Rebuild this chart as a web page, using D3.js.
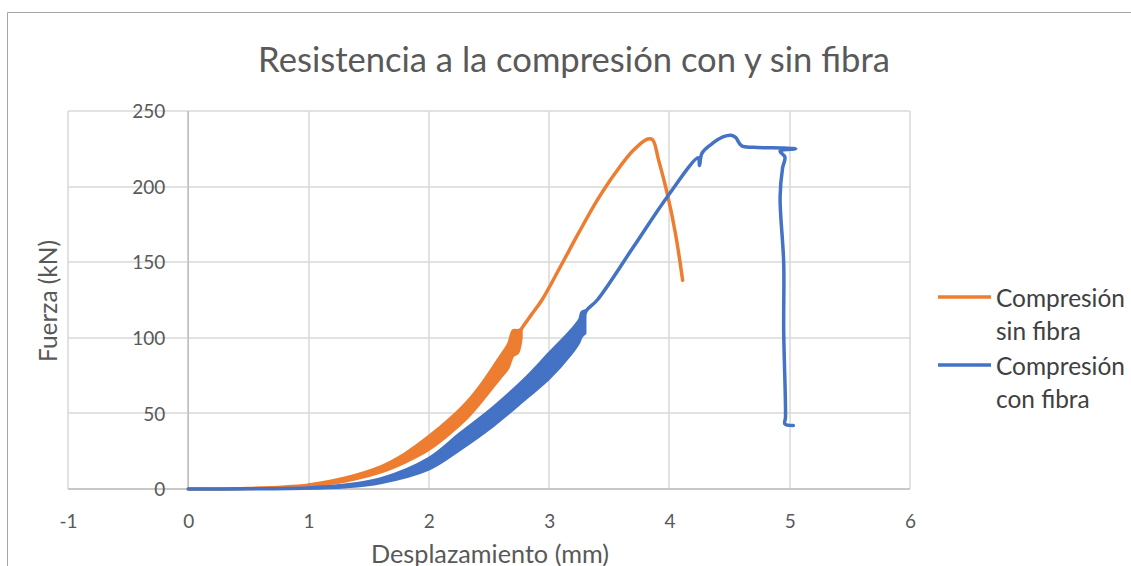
<!DOCTYPE html>
<html>
<head>
<meta charset="utf-8">
<script src="https://cdn.jsdelivr.net/npm/d3@7/dist/d3.min.js"></script>
<style>
  html, body { margin: 0; padding: 0; background: #fff; }
  svg { display: block; }
  text { font-family: Lato, "Open Sans", sans-serif; }
</style>
</head>
<body>
<svg id="chart" width="1131" height="566"></svg>
<script>
// ---------- data ----------
const title = "Resistencia a la compresión con y sin fibra";
const xLabel = "Desplazamiento (mm)";
const yLabel = "Fuerza (kN)";
const xTicks = [-1, 0, 1, 2, 3, 4, 5, 6];
const yTicks = [0, 50, 100, 150, 200, 250];
const seriesNames = [["Compresión", "sin fibra"], ["Compresión", "con fibra"]];

// Compresión sin fibra (centre line)
const sinX = [0, 0.5, 1.0, 1.3, 1.6, 1.8, 2.0, 2.18, 2.32, 2.45, 2.59, 2.70, 2.77, 2.85, 2.94, 3.1, 3.25, 3.4, 3.55, 3.70, 3.82, 3.86, 3.91, 3.98, 4.05, 4.11];
const sinY = [0, 0.3, 2.5, 6, 12.5, 20.5, 30.5, 42, 53, 65, 80, 97, 106, 115, 125, 148, 170, 191, 209, 224, 231.5, 231, 217.5, 196, 169, 138];
// cyclic loading band (envelope) sin fibra
const sinBandX  = [1.0, 1.3, 1.6, 1.8, 2.0, 2.18, 2.32, 2.45, 2.59, 2.66, 2.70, 2.74, 2.77];
const sinBandLo = [2, 5, 11, 17.5, 26, 37, 47, 59, 73, 80, 88, 90, 100];
const sinBandHi = [3, 7.5, 15, 23.5, 35, 47, 58, 71, 87.5, 96, 105, 105, 106];

// Compresión con fibra (centre line)
const conX = [0, 0.5, 1.0, 1.3, 1.6, 2.0, 2.26, 2.54, 2.81, 3.0, 3.18, 3.27, 3.31, 3.40, 3.70, 3.98, 4.24, 4.25, 4.27, 4.34, 4.45, 4.51, 4.55, 4.60, 4.70, 4.95, 5.05, 4.92, 4.96, 4.94, 4.92, 4.95, 4.95, 4.965, 4.96, 5.03];
const conY = [0, 0.1, 0.7, 2, 5.5, 16.5, 31.5, 48, 67, 82, 97, 110, 118, 125, 160, 193, 219, 214, 222, 227.5, 233, 234, 232.5, 227, 226, 225.5, 225, 223.5, 219.5, 212, 193, 149.5, 105, 47.6, 43, 42];
// cyclic loading band (envelope) con fibra
const conBandX  = [1.0, 1.3, 1.6, 2.0, 2.26, 2.54, 2.81, 3.0, 3.18, 3.25, 3.27, 3.30];
const conBandLo = [0.3, 1.2, 4, 13, 26, 42, 60, 73, 89, 97, 100.7, 103];
const conBandHi = [1, 2.8, 7, 20.5, 37, 54.5, 74, 90, 105, 112, 117, 118];

const colors = ["#ED7D31", "#4472C4"];

// ---------- layout ----------
const svg = d3.select("#chart");
const W = 1131, H = 566;
const plot = { left: 68, right: 910, top: 111, bottom: 489 };

const x = d3.scaleLinear().domain([-1, 6]).range([plot.left, plot.right]);
const y = d3.scaleLinear().domain([0, 250]).range([plot.bottom, plot.top]);

function fit(sel, w) {
  const cur = sel.node().getComputedTextLength();
  const fs = parseFloat(sel.attr("font-size"));
  sel.attr("font-size", (fs * w / cur).toFixed(2));
}

// frame
svg.append("path")
  .attr("d", `M7.5,${H} L7.5,12.5 L${W},12.5`)
  .attr("fill", "none").attr("stroke", "#a6a6a6").attr("stroke-width", 1);

// title
const t = svg.append("text")
  .attr("x", 574).attr("y", 58).attr("text-anchor", "middle")
  .attr("dominant-baseline", "central")
  .attr("font-size", 28).attr("fill", "#595959").text(title);
fit(t, 632);

// gridlines
const g = svg.append("g");
g.selectAll(".hg").data(yTicks).join("line")
  .attr("x1", plot.left).attr("x2", plot.right)
  .attr("y1", d => Math.round(y(d))).attr("y2", d => Math.round(y(d)))
  .attr("stroke", "#d9d9d9").attr("stroke-width", 1.5);
g.selectAll(".vg").data(xTicks).join("line")
  .attr("y1", plot.top).attr("y2", plot.bottom)
  .attr("x1", d => Math.round(x(d))).attr("x2", d => Math.round(x(d)))
  .attr("stroke", "#d9d9d9").attr("stroke-width", 1.5);

// axis lines (at x=0 and y=0)
svg.append("line").attr("x1", plot.left).attr("x2", plot.right)
  .attr("y1", y(0)).attr("y2", y(0)).attr("stroke", "#bfbfbf").attr("stroke-width", 1.5);
svg.append("line").attr("x1", x(0)).attr("x2", x(0))
  .attr("y1", plot.top).attr("y2", plot.bottom).attr("stroke", "#bfbfbf").attr("stroke-width", 1.5);

// axes (labels only)
const xAxis = svg.append("g").attr("transform", `translate(0,${y(0)})`)
  .call(d3.axisBottom(x).tickValues(xTicks).tickSize(0).tickFormat(d => String(d)));
xAxis.select(".domain").remove();
xAxis.selectAll("text").attr("y", 32).attr("dy", "0.35em")
  .attr("font-size", 19).attr("fill", "#595959").attr("font-family", "Lato, sans-serif");

const yAxis = svg.append("g").attr("transform", `translate(${x(0)},0)`)
  .call(d3.axisLeft(y).tickValues(yTicks).tickSize(0).tickFormat(d => String(d)));
yAxis.select(".domain").remove();
yAxis.selectAll("text").attr("x", -23).attr("dy", "0.35em")
  .attr("font-size", 19).attr("fill", "#595959").attr("font-family", "Lato, sans-serif");

// axis titles
const xt = svg.append("text").attr("x", 490).attr("y", 553)
  .attr("text-anchor", "middle").attr("dominant-baseline", "central")
  .attr("font-size", 20).attr("fill", "#595959").text(xLabel);
fit(xt, 238);
const yt = svg.append("text")
  .attr("transform", "translate(47,301) rotate(-90)")
  .attr("text-anchor", "middle").attr("dominant-baseline", "central")
  .attr("font-size", 20).attr("fill", "#595959").text(yLabel);
fit(yt, 122);

// series
const curve = d3.curveCatmullRom.alpha(0.5);
const line = d3.line().x(d => x(d[0])).y(d => y(d[1])).curve(curve);
const area = d3.area().x(d => x(d[0])).y0(d => y(d[1])).y1(d => y(d[2])).curve(curve);

const bands = [
  d3.zip(sinBandX, sinBandLo, sinBandHi),
  d3.zip(conBandX, conBandLo, conBandHi)
];
const lines = [d3.zip(sinX, sinY), d3.zip(conX, conY)];

[0, 1].forEach(i => {
  svg.append("path").datum(bands[i]).attr("d", area)
    .attr("fill", colors[i]).attr("stroke", colors[i]).attr("stroke-width", 2.5)
    .attr("stroke-linejoin", "round");
  svg.append("path").datum(lines[i]).attr("d", line)
    .attr("fill", "none").attr("stroke", colors[i]).attr("stroke-width", 3.5)
    .attr("stroke-linejoin", "round").attr("stroke-linecap", "round");
});

// legend
const legY = [297, 365];
let legFs = null;
seriesNames.forEach((lines2, i) => {
  svg.append("line").attr("x1", 938).attr("x2", 991)
    .attr("y1", legY[i]).attr("y2", legY[i])
    .attr("stroke", colors[i]).attr("stroke-width", 3.5);
  lines2.forEach((s, j) => {
    const tx = svg.append("text").attr("x", 996).attr("y", legY[i] + j * 33)
      .attr("dominant-baseline", "central")
      .attr("font-size", 21).attr("fill", "#404040").text(s);
    if (legFs === null) { fit(tx, 129); legFs = tx.attr("font-size"); }
    else tx.attr("font-size", legFs);
  });
});
</script>
</body>
</html>
